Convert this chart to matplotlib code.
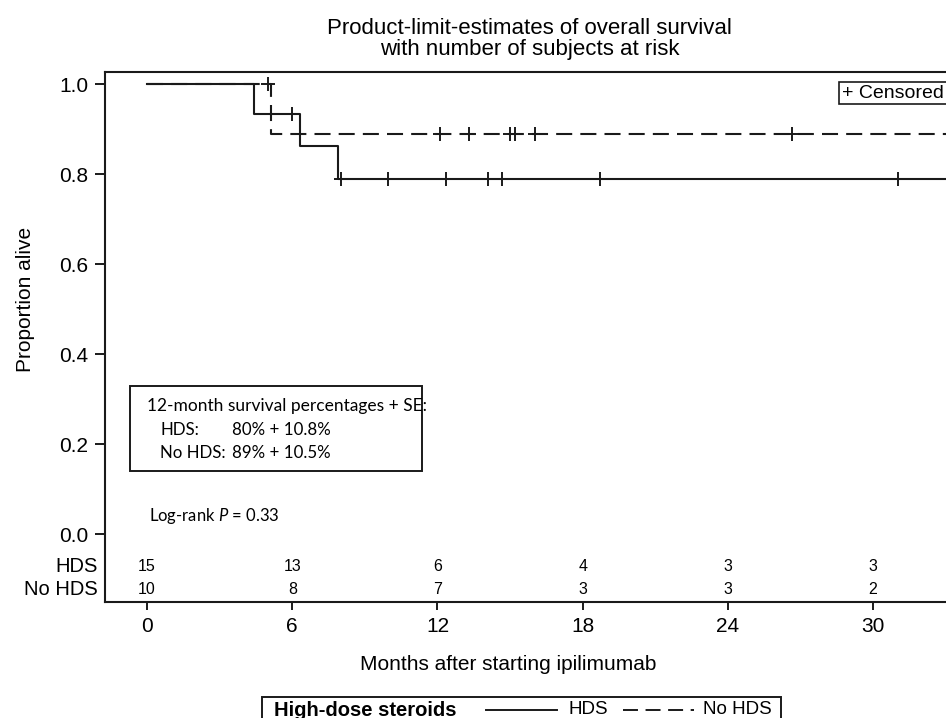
import matplotlib
matplotlib.use("Agg")
import matplotlib.pyplot as plt
from matplotlib.lines import Line2D
from matplotlib.patches import Rectangle
import numpy as np

plt.rcParams['font.family'] = ['Liberation Sans', 'DejaVu Sans']
plt.rcParams['mathtext.fontset'] = 'custom'
plt.rcParams['mathtext.it'] = 'Lato:italic'
plt.rcParams['mathtext.rm'] = 'Lato'

# Kaplan-Meier steps
hds_times = [0, 4.4, 6.3, 7.9]
hds_surv = [1.0, 0.933, 0.862, 0.790]
hds_censored = [6.0, 8.0, 9.95, 12.35, 14.1, 14.65, 18.7, 31.05]

nohds_times = [0, 5.1]
nohds_surv = [1.0, 0.889]
nohds_censored = [5.0, 12.1, 13.3, 15.0, 15.2, 16.05, 26.65]

# numbers at risk
risk_months = [0, 6, 12, 18, 24, 30]
risk_hds = [15, 13, 6, 4, 3, 3]
risk_nohds = [10, 8, 7, 3, 3, 2]

x_end = 34
W, H = 946, 718


def px(x, y):
    # pixel position -> figure fraction
    return x / W, 1 - y / H


def surv_at(times, surv, t):
    idx = np.searchsorted(times, t, side='right') - 1
    return surv[idx]


fig = plt.figure(figsize=(W / 100, H / 100), dpi=100)
ax = fig.add_axes([105 / W, 1 - 602 / H, (960 - 105) / W, (602 - 72) / H])

ink = '#1a1a1a'
dash_style = (7.7, 3.9)

# curves
ax.step(hds_times + [x_end], hds_surv + [hds_surv[-1]], where='post',
        color=ink, lw=1.5)
nl, = ax.step(nohds_times + [x_end], nohds_surv + [nohds_surv[-1]], where='post',
              color=ink, lw=1.5, linestyle='--')
nl.set_dashes(dash_style)

# censor marks
ax.plot(hds_censored, [surv_at(hds_times, hds_surv, t) for t in hds_censored],
        linestyle='none', marker='+', ms=10, mew=1.4, color=ink)
ax.plot(nohds_censored, [surv_at(nohds_times, nohds_surv, t) for t in nohds_censored],
        linestyle='none', marker='+', ms=10, mew=1.4, color=ink)

ax.set_xlim(-1.74, (960 - 147) / 24.2)
ax.set_ylim(-0.151, 1.0267)
ax.set_xticks(risk_months)
ax.set_yticks([0.0, 0.2, 0.4, 0.6, 0.8, 1.0])
ax.set_yticklabels(['0.0', '0.2', '0.4', '0.6', '0.8', '1.0'])
ax.tick_params(labelsize=15, width=1.4, color=ink, labelcolor='black')
ax.tick_params(axis='y', length=7, pad=5)
ax.tick_params(axis='x', length=6, pad=5)
for s in ax.spines.values():
    s.set_linewidth(1.5)
    s.set_color(ink)

ax.set_ylabel('Proportion alive', fontsize=15)
ax.yaxis.set_label_coords(-0.082, 0.57)
ax.set_xlabel('Months after starting ipilimumab', fontsize=15)
ax.xaxis.set_label_coords(0.471, -0.1)

# at-risk table inside the axes
for m, a, b in zip(risk_months, risk_hds, risk_nohds):
    ax.text(m, -0.073, str(a), ha='center', va='center', fontsize=11.5)
    ax.text(m, -0.124, str(b), ha='center', va='center', fontsize=11.5)
ax.text(-2.03, -0.073, 'HDS', ha='right', va='center', fontsize=14.5)
ax.text(-2.03, -0.124, 'No HDS', ha='right', va='center', fontsize=14.5)

# censored key (box runs off the right edge like the original)
ax.text(28.72, 0.98, '+ Censored', ha='left', va='center', fontsize=14,
        bbox=dict(boxstyle='square,pad=0.15', fc='white', ec=ink, lw=1.2))

# 12-month survival box
ax.add_patch(Rectangle((-0.70, 0.1407), 12.06, 0.1889, fill=False, ec=ink, lw=1.4))
ann_font = dict(family='Lato', fontsize=12.2, va='center')
ax.text(0.0, 0.284, '12-month survival percentages + SE:', ha='left',
        family='Lato', fontsize=12.5, va='center')
ax.text(0.54, 0.231, 'HDS:', ha='left', **ann_font)
ax.text(3.5, 0.231, '80% + 10.8%', ha='left', **ann_font)
ax.text(0.54, 0.18, 'No HDS:', ha='left', **ann_font)
ax.text(3.5, 0.18, '89% + 10.5%', ha='left', **ann_font)
ax.text(0.08, 0.04, 'Log-rank $\\it{P}$ = 0.33', ha='left', family='Lato',
        fontsize=12, va='center')

# title, two lines
for line, yy in zip(['Product-limit-estimates of overall survival',
                     'with number of subjects at risk'], [29, 50]):
    tx, ty = px(529.5, yy)
    fig.text(tx, ty, line, ha='center', va='center', fontsize=16)

# bottom legend box
x0, y0 = px(262, 697)
x1, y1 = px(781, 730)
fig.add_artist(Rectangle((x0, y1), x1 - x0, y0 - y1, transform=fig.transFigure,
                         fill=False, ec=ink, lw=1.4))
lx, ly = px(274, 710)
fig.text(lx, ly, 'High-dose steroids', ha='left', va='center', fontsize=14.5,
         fontweight='bold')
a0, ay = px(486, 710)
a1, _ = px(557, 710)
fig.add_artist(Line2D([a0, a1], [ay, ay], transform=fig.transFigure, color=ink, lw=1.4))
fig.text(px(568, 710)[0], ay, 'HDS', ha='left', va='center', fontsize=13.5)
b0, _ = px(623, 710)
b1, _ = px(694, 710)
leg_dash = Line2D([b0, b1], [ay, ay], transform=fig.transFigure, color=ink, lw=1.4,
                  linestyle='--')
leg_dash.set_dashes(dash_style)
fig.add_artist(leg_dash)
fig.text(px(703, 710)[0], ay, 'No HDS', ha='left', va='center', fontsize=13.5)

fig.savefig('out.png', dpi=100)
